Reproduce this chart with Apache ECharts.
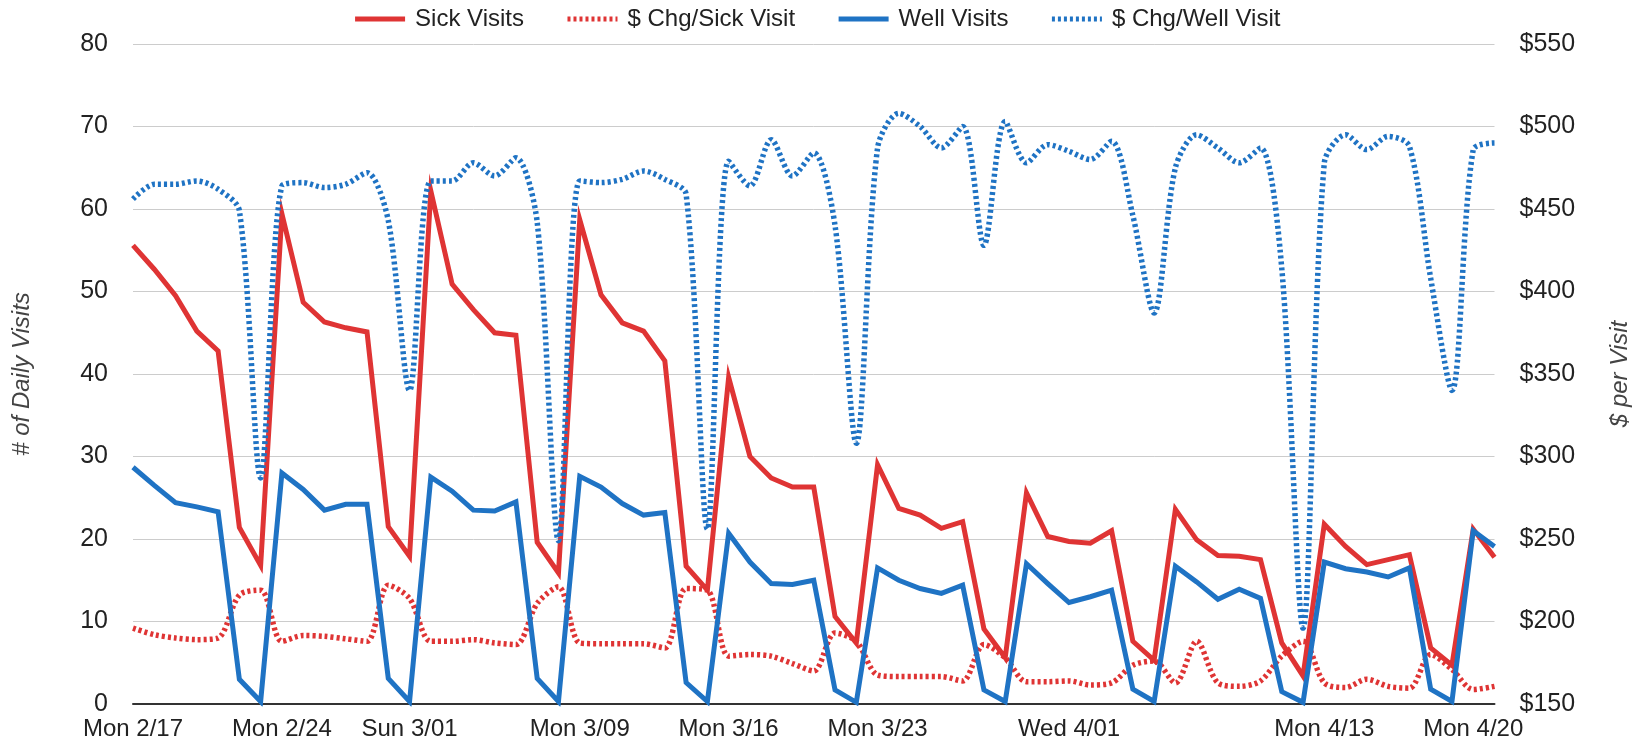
<!DOCTYPE html>
<html>
<head>
<meta charset="utf-8">
<script src="https://cdn.jsdelivr.net/npm/echarts@6/dist/echarts.min.js"></script>
<style>
  html, body { margin: 0; padding: 0; background: #fff; overflow: hidden; }
  #chart { width: 1633px; height: 745px; }
</style>
</head>
<body>
<div id="chart"></div>
<script>
// ---- data ----
const categories = [
  'Mon 2/17','Tue 2/18','Wed 2/19','Thu 2/20','Fri 2/21','Sat 2/22','Sun 2/23',
  'Mon 2/24','Tue 2/25','Wed 2/26','Thu 2/27','Fri 2/28','Sat 2/29','Sun 3/01',
  'Mon 3/02','Tue 3/03','Wed 3/04','Thu 3/05','Fri 3/06','Sat 3/07','Sun 3/08',
  'Mon 3/09','Tue 3/10','Wed 3/11','Thu 3/12','Fri 3/13','Sat 3/14','Sun 3/15',
  'Mon 3/16','Tue 3/17','Wed 3/18','Thu 3/19','Fri 3/20','Sat 3/21','Sun 3/22',
  'Mon 3/23','Tue 3/24','Wed 3/25','Thu 3/26','Fri 3/27','Sat 3/28','Sun 3/29',
  'Mon 3/30','Tue 3/31','Wed 4/01','Thu 4/02','Fri 4/03','Sat 4/04','Sun 4/05',
  'Mon 4/06','Tue 4/07','Wed 4/08','Thu 4/09','Fri 4/10','Sat 4/11','Sun 4/12',
  'Mon 4/13','Tue 4/14','Wed 4/15','Thu 4/16','Fri 4/17','Sat 4/18','Sun 4/19',
  'Mon 4/20','Tue 4/21'
];
const shownXLabels = ['Mon 2/17','Mon 2/24','Sun 3/01','Mon 3/09','Mon 3/16','Mon 3/23','Wed 4/01','Mon 4/13','Mon 4/20'];

const sickVisits = [
  55.6, 52.7, 49.5, 45.2, 42.8, 21.4, 16.8,
  59.4, 48.7, 46.3, 45.6, 45.1, 21.5, 17.9,
  62.2, 50.9, 47.8, 45.0, 44.7, 19.6, 15.9,
  58.7, 49.6, 46.2, 45.2, 41.6, 16.7, 13.8,
  39.6, 30.0, 27.4, 26.3, 26.3, 10.6, 7.4,
  29.0, 23.7, 22.9, 21.3, 22.1, 9.1, 5.6,
  25.6, 20.3, 19.7, 19.5, 21.0, 7.6, 5.3,
  23.6, 19.9, 18.0, 17.9, 17.5, 7.4, 3.4,
  21.8, 19.1, 16.9, 17.5, 18.1, 6.8, 4.7,
  21.2, 17.8
];
const sickChg = [
  196, 192, 190, 189, 190, 216, 219,
  188, 191.5, 191, 189.5, 188, 222, 214,
  188, 188, 189, 187, 186, 211, 221,
  187, 186.5, 186.5, 186.5, 184, 220, 219,
  179, 180, 179, 174.5, 170, 193, 188,
  167.6, 166.6, 166.6, 166.6, 164, 186, 178,
  163.5, 163.5, 164, 161.5, 162.8, 173.5, 176,
  162.8, 188, 162.8, 160.7, 164, 179, 188,
  162.8, 160, 165, 160.7, 159.6, 180, 171,
  158.8, 160.7
];
const wellVisits = [
  28.7, 26.5, 24.4, 23.9, 23.3, 3.0, 0.3,
  28.0, 26.0, 23.5, 24.2, 24.2, 3.1, 0.3,
  27.5, 25.8, 23.5, 23.4, 24.5, 3.1, 0.3,
  27.6, 26.3, 24.3, 22.9, 23.2, 2.6, 0.3,
  20.7, 17.2, 14.6, 14.5, 15.0, 1.7, 0.2,
  16.5, 15.0, 14.0, 13.4, 14.4, 1.7, 0.3,
  17.0, 14.6, 12.3, 13.0, 13.8, 1.8, 0.3,
  16.7, 14.8, 12.7, 13.9, 12.8, 1.5, 0.2,
  17.2, 16.4, 16.0, 15.4, 16.5, 1.8, 0.3,
  21.0, 19.1
];
const wellChg = [
  456, 465, 465, 467, 462, 449, 287,
  464, 466, 463, 465, 472, 443, 340,
  467, 467, 478, 470, 481, 442, 249,
  467, 466, 468, 473, 468, 459, 256,
  479, 464, 492, 470, 484, 440, 308,
  487, 508, 500, 487, 500, 428, 503,
  478, 489, 485, 480, 491, 446, 387,
  475, 495, 487, 478, 487, 414, 196,
  478, 495, 486, 494, 488, 408, 340,
  486, 490
];
const leftTicks = { min: 0, max: 80, interval: 10 };
const rightTicks = { min: 150, max: 550, interval: 50 };

// ---- chart ----
const RED = '#df3434';
const BLUE = '#1f73c4';
const FONT = "'Liberation Sans', Arial, sans-serif";

const el = document.getElementById('chart');
const chart = echarts.init(el, null, { renderer: 'canvas', width: 1633, height: 745 });
chart.setOption({
  backgroundColor: '#fff',
  animation: false,
  textStyle: { fontFamily: FONT },
  legend: {
    top: 2,
    left: 'center',
    itemWidth: 50,
    itemHeight: 14,
    itemGap: 41,
    itemStyle: { opacity: 0 },
    lineStyle: { width: 5 },
    textStyle: { fontSize: 24, color: '#222', fontFamily: FONT, padding: [0, 0, 0, 5] },
    data: ['Sick Visits', '$ Chg/Sick Visit', 'Well Visits', '$ Chg/Well Visit']
  },
  grid: { left: 133, right: 138.5, top: 44, bottom: 41, containLabel: false, outerBoundsMode: 'none' },
  xAxis: {
    type: 'category',
    data: categories,
    boundaryGap: false,
    axisLine: { show: true, lineStyle: { color: '#333', width: 2 } },
    axisTick: { show: false },
    splitLine: { show: false },
    axisLabel: {
      interval: (idx, val) => shownXLabels.includes(val),
      fontSize: 24, color: '#222', margin: 13, fontFamily: FONT
    }
  },
  yAxis: [
    {
      type: 'value', position: 'left',
      min: leftTicks.min, max: leftTicks.max, interval: leftTicks.interval,
      name: '# of Daily Visits', nameLocation: 'middle', nameGap: 99, nameRotate: 90,
      nameTextStyle: { fontSize: 24, fontStyle: 'italic', color: '#444', fontFamily: FONT },
      axisLine: { show: false }, axisTick: { show: false },
      axisLabel: { fontSize: 25, color: '#222', margin: 25, fontFamily: FONT },
      splitLine: { show: true, lineStyle: { color: '#cccccc', width: 1 } }
    },
    {
      type: 'value', position: 'right',
      min: rightTicks.min, max: rightTicks.max, interval: rightTicks.interval,
      name: '$ per Visit', nameLocation: 'middle', nameGap: 113.5, nameRotate: 90,
      nameTextStyle: { fontSize: 24, fontStyle: 'italic', color: '#444', fontFamily: FONT },
      axisLine: { show: false }, axisTick: { show: false },
      axisLabel: { fontSize: 25, color: '#222', margin: 25, fontFamily: FONT, formatter: v => '$' + v },
      splitLine: { show: false }
    }
  ],
  series: [
    {
      name: 'Sick Visits', type: 'line', yAxisIndex: 0, data: sickVisits,
      symbol: 'none', color: RED,
      lineStyle: { color: RED, width: 5, join: 'miter' }
    },
    {
      name: '$ Chg/Sick Visit', type: 'line', yAxisIndex: 1, data: sickChg,
      symbol: 'none', color: RED, smooth: 0.3,
      lineStyle: { color: RED, width: 5.5, type: [3, 3], cap: 'butt' }
    },
    {
      name: 'Well Visits', type: 'line', yAxisIndex: 0, data: wellVisits,
      symbol: 'none', color: BLUE,
      lineStyle: { color: BLUE, width: 5, join: 'miter' }
    },
    {
      name: '$ Chg/Well Visit', type: 'line', yAxisIndex: 1, data: wellChg,
      symbol: 'none', color: BLUE, smooth: 0.3,
      lineStyle: { color: BLUE, width: 5.5, type: [3, 3], cap: 'butt' }
    }
  ]
});
</script>
</body>
</html>
